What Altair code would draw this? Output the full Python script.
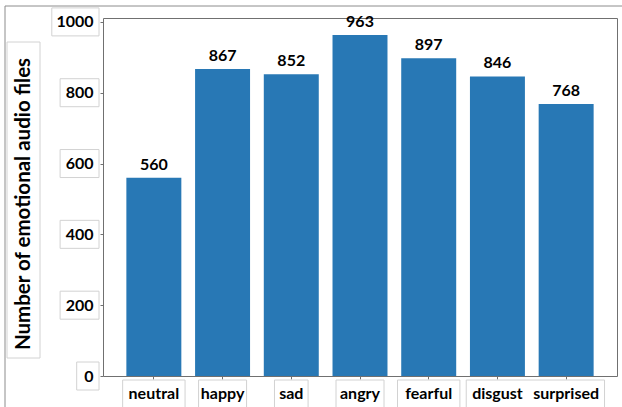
import altair as alt
import pandas as pd

# Data
emotions = ["neutral", "happy", "sad", "angry", "fearful", "disgust", "surprised"]
file_counts = [560, 867, 852, 963, 897, 846, 768]
y_ticks = [0, 200, 400, 600, 800, 1000]
y_title = "Number of emotional audio files"

BAR = "#2878b5"
FONT = "Lato"
BOX = "#d2d2d2"
FRAME = "#707070"

W, H = 514, 358
PAD_IN, PAD_OUT = 0.2, 0.34
STEP = W / (len(emotions) - PAD_IN + 2 * PAD_OUT)

df = pd.DataFrame({"emotion": emotions, "count": file_counts})

x_scale = alt.Scale(domain=emotions, paddingInner=PAD_IN, paddingOuter=PAD_OUT)
y_scale = alt.Scale(domain=[0, 1011], nice=False)

x_axis = alt.Axis(
    title=None, labelAngle=0, labelFont=FONT, labelFontSize=16,
    labelFontWeight="bold", labelColor="black", labelPadding=6,
    tickSize=3, tickColor=FRAME, domain=False,
)
y_axis = alt.Axis(
    values=y_ticks, format="d", title=None, grid=False, labelFont=FONT,
    labelFontSize=16, labelFontWeight="bold", labelColor="black",
    labelPadding=7, tickSize=3, tickColor=FRAME, domain=False,
)


def rect_path(x0, y0, x1, y1):
    # symbol paths are drawn at pixel scale when size == 4
    return f"M{x0:.1f},{y0:.1f}H{x1:.1f}V{y1:.1f}H{x0:.1f}Z"


# Boxes behind the y tick labels
ybox = pd.DataFrame({
    "tick": y_ticks,
    "shape": [rect_path(-(4 + 14 + 8.3 * len(str(t))), -14, -4, 14) for t in y_ticks],
})

# Boxes behind the category labels; neighbouring boxes that would overlap share one
half = [(7.2 * len(e) + 12) / 2 for e in emotions]
spans = []
for i, e in enumerate(emotions):
    lo, hi = i * STEP - half[i], i * STEP + half[i]
    if spans and lo < spans[-1][2]:
        spans[-1][2] = hi
    else:
        spans.append([i, lo, hi])
xbox_rows = []
for i, lo, hi in spans:
    c = i * STEP
    xbox_rows.append({"emotion": emotions[i], "shape": rect_path(lo - c, 4, hi - c, 40)})
xbox = pd.DataFrame(xbox_rows)

one = alt.Data(values=[{}])

X = alt.X("emotion:N", scale=x_scale, sort=emotions, axis=x_axis)

bars = alt.Chart(df).mark_bar(color=BAR).encode(
    x=X,
    y=alt.Y("count:Q", scale=y_scale, axis=y_axis),
)

values = alt.Chart(df).mark_text(
    baseline="bottom", dy=-5, font=FONT, fontSize=16, fontWeight="bold", color="black"
).encode(
    x=X,
    y=alt.Y("count:Q", scale=y_scale, axis=y_axis),
    text="count:Q",
)

ybox_layer = alt.Chart(ybox).mark_point(
    filled=False, size=4, color=BOX, strokeWidth=1, opacity=1
).encode(
    x=alt.value(0),
    y=alt.Y("tick:Q", scale=y_scale, axis=y_axis),
    shape=alt.Shape("shape:N", scale=None),
)

xbox_layer = alt.Chart(xbox).mark_point(
    filled=False, size=4, color=BOX, strokeWidth=1, opacity=1
).encode(
    x=X,
    y=alt.value(H),
    shape=alt.Shape("shape:N", scale=None),
)

title_box = alt.Chart(one).mark_rect(fill="transparent", stroke=BOX, strokeWidth=1).encode(
    x=alt.value(-96), x2=alt.value(-63), y=alt.value(24), y2=alt.value(340)
)

title_text = alt.Chart(one).mark_text(
    angle=270, font=FONT, fontSize=20.5, fontWeight="bold", color="black",
    align="center", baseline="middle",
).encode(x=alt.value(-79), y=alt.value(186), text=alt.value(y_title))

outer = alt.Chart(one).mark_rect(fill="transparent", stroke="#8c8c8c", strokeWidth=1).encode(
    x=alt.value(-98), x2=alt.value(530), y=alt.value(-12), y2=alt.value(420)
)

chart = alt.layer(
    outer, title_box, ybox_layer, xbox_layer, bars, values, title_text
).properties(
    width=W, height=H,
    padding={"left": 103, "top": 18, "right": 5, "bottom": 31},
    autosize=alt.AutoSizeParams(type="none"),
    background="white",
).configure_view(stroke=FRAME, strokeWidth=1)

chart.save("out.html", embed_options={"renderer": "svg", "actions": False})
